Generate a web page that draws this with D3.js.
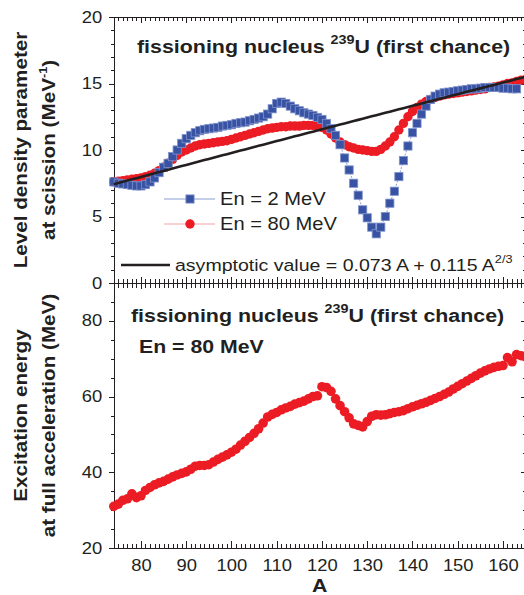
<!DOCTYPE html>
<html>
<head>
<meta charset="utf-8">
<title>Level density and excitation energy at scission, 239U</title>
<script src="https://cdn.jsdelivr.net/npm/d3@7/dist/d3.min.js"></script>
<style>
    body { margin: 0; background: #ffffff; }
    #chart svg { display: block; font-family: "Liberation Sans", Arial, Helvetica, sans-serif; }
    .axis path, .axis line { stroke: #231f20; stroke-width: 1; shape-rendering: crispEdges; }
    .axis text { fill: #231f20; font-size: 16px; }
</style>
</head>
<body>
<div id="chart"></div>
<script>

// every series has one point per mass number, starting at A = 74
const firstA = 74;

// level density parameter at scission (MeV^-1), En = 2 MeV, A = 74..163
const levelDensity2MeV = [
    7.6, 7.5, 7.45, 7.4, 7.35, 7.3, 7.3, 7.4, 7.6, 7.9,
    8.3, 8.7, 9.0, 9.5, 10.0, 10.5, 10.85, 11.1, 11.3, 11.45,
    11.55, 11.6, 11.65, 11.7, 11.8, 11.85, 11.9, 12.0, 12.05, 12.1,
    12.2, 12.3, 12.4, 12.5, 12.7, 13.1, 13.5, 13.6, 13.5, 13.3,
    13.1, 12.95, 12.8, 12.7, 12.6, 12.45, 12.3, 12.0, 11.6, 11.1,
    10.4, 9.4, 8.5, 7.5, 6.6, 5.5, 4.9, 4.2, 3.7, 4.2,
    5.0, 6.0, 6.9, 8.0, 9.2, 10.3, 11.3, 12.0, 12.7, 13.3,
    13.8, 14.05, 14.2, 14.3, 14.35, 14.4, 14.45, 14.5, 14.55, 14.6,
    14.6, 14.65, 14.7, 14.7, 14.7, 14.7, 14.65, 14.65, 14.6, 14.6
];

// level density parameter at scission (MeV^-1), En = 80 MeV, A = 74..165
const levelDensity80MeV = [
    7.6, 7.65, 7.7, 7.75, 7.8, 7.85, 7.9, 8.0, 8.1, 8.25,
    8.45, 8.7, 9.0, 9.3, 9.6, 9.85, 10.0, 10.15, 10.3, 10.4,
    10.45, 10.5, 10.55, 10.6, 10.65, 10.7, 10.8, 10.9, 11.0, 11.1,
    11.2, 11.3, 11.4, 11.5, 11.6, 11.65, 11.7, 11.75, 11.75, 11.8,
    11.8, 11.8, 11.85, 11.85, 11.85, 11.8, 11.7, 11.5, 11.2, 10.9,
    10.6, 10.4, 10.25, 10.15, 10.05, 10.0, 9.95, 9.9, 9.9, 10.05,
    10.3, 10.6, 11.0, 11.5, 12.0, 12.5, 12.9, 13.2, 13.45, 13.65,
    13.8, 13.95, 14.05, 14.15, 14.2, 14.25, 14.3, 14.35, 14.4, 14.45,
    14.5, 14.55, 14.6, 14.7, 14.75, 14.8, 14.9, 15.0, 15.05, 15.15,
    15.25, 15.3
];

// excitation energy at full acceleration (MeV), En = 80 MeV, A = 74..165
const excitation80MeV = [
    31.0, 31.6, 32.6, 33.0, 34.3, 33.3, 33.8, 35.2, 36.0, 36.7,
    37.2, 37.6, 38.2, 38.8, 39.3, 39.7, 40.1, 40.8, 41.6, 41.8,
    41.8, 42.0, 42.7, 43.4, 44.0, 44.6, 45.3, 46.1, 47.2, 48.2,
    49.2, 50.3, 51.5, 53.0, 54.6, 55.3, 55.8, 56.5, 57.0, 57.4,
    58.0, 58.4, 58.8, 59.4, 60.0, 60.2, 62.6, 62.4, 61.4, 59.4,
    57.6, 56.0, 54.4, 52.8, 52.4, 52.0, 53.4, 54.8, 55.2, 55.1,
    55.2, 55.5, 55.8, 56.0, 56.3, 56.8, 57.3, 57.7, 58.1, 58.5,
    59.0, 59.5, 60.0, 60.6, 61.2, 62.0, 62.7, 63.4, 64.1, 64.8,
    65.5, 66.2, 66.8, 67.3, 67.7, 68.0, 68.2, 70.3, 69.2, 71.1,
    70.8, 70.5
];

// asymptotic level density a = 0.073 A + 0.115 A^(2/3)
const asymVolume = 0.073;
const asymSurface = 0.115;

// axis ticks
const xMajorTicks = [80, 90, 100, 110, 120, 130, 140, 150, 160];
const levelMajorTicks = [0, 5, 10, 15, 20];
const energyMajorTicks = [20, 40, 60, 80];

const ink = "#231f20";
const blue = "#3953a4";
const blueLine = "#8b9dd3";
const red = "#ec1c24";
const redLine = "#f4a3a5";
const textStretch = 1.15;

const width = 524, height = 595;
const plotLeft = 113.8, plotRight = 525.6;
const levelTop = 17, panelSplit = 283, energyBottom = 548;

let svg = d3.select("#chart").append("svg")
    .attr("width", width)
    .attr("height", height);

let x = d3.scaleLinear().domain([74, 165]).range([plotLeft, plotRight]);
let yLevel = d3.scaleLinear().domain([0, 20]).range([panelSplit, levelTop]);
let yEnergy = d3.scaleLinear().domain([20, 90]).range([energyBottom, panelSplit]);

// minor ticks: every unit of A, every 1 MeV^-1, every 5 MeV
let xMinorTicks = d3.range(74, 166).filter(d => d % 10 !== 0);
let levelMinorTicks = d3.range(1, 20).filter(d => d % 5 !== 0);
let energyMinorTicks = d3.range(25, 91, 5).filter(d => d % 20 !== 0);

function drawAxis(axis, tx, ty) {
    let g = svg.append("g")
        .attr("class", "axis")
        .attr("transform", `translate(${tx},${ty})`)
        .call(axis);
    g.selectAll("text").attr("transform", `scale(${textStretch},1)`);
    return g;
}

// ---- left axes, ticks outward
drawAxis(d3.axisLeft(yLevel).tickValues(levelMajorTicks).tickSizeInner(5).tickSizeOuter(0).tickPadding(5), plotLeft, 0);
drawAxis(d3.axisLeft(yLevel).tickValues(levelMinorTicks).tickSizeInner(3).tickSizeOuter(0).tickFormat(""), plotLeft, 0);
drawAxis(d3.axisLeft(yEnergy).tickValues(energyMajorTicks).tickSizeInner(5).tickSizeOuter(0).tickPadding(5), plotLeft, 0);
drawAxis(d3.axisLeft(yEnergy).tickValues(energyMinorTicks).tickSizeInner(3).tickSizeOuter(0).tickFormat(""), plotLeft, 0);

// ---- right axes, ticks inward
drawAxis(d3.axisRight(yLevel).tickValues(levelMajorTicks).tickSizeInner(-5).tickSizeOuter(0).tickFormat(""), plotRight, 0);
drawAxis(d3.axisRight(yLevel).tickValues(levelMinorTicks).tickSizeInner(-3).tickSizeOuter(0).tickFormat(""), plotRight, 0);
drawAxis(d3.axisRight(yEnergy).tickValues(energyMajorTicks).tickSizeInner(-5).tickSizeOuter(0).tickFormat(""), plotRight, 0);
drawAxis(d3.axisRight(yEnergy).tickValues(energyMinorTicks).tickSizeInner(-3).tickSizeOuter(0).tickFormat(""), plotRight, 0);

// ---- top frame
drawAxis(d3.axisTop(x).tickValues(xMajorTicks).tickSizeInner(-6).tickSizeOuter(0).tickFormat(""), 0, levelTop);
drawAxis(d3.axisTop(x).tickValues(xMinorTicks).tickSizeInner(-3.5).tickSizeOuter(0).tickFormat(""), 0, levelTop);

// ---- shared line between the panels, ticks into both
drawAxis(d3.axisBottom(x).tickValues(xMajorTicks).tickSizeInner(-6).tickSizeOuter(0).tickFormat(""), 0, panelSplit);
drawAxis(d3.axisBottom(x).tickValues(xMinorTicks).tickSizeInner(-4.5).tickSizeOuter(0).tickFormat(""), 0, panelSplit);
drawAxis(d3.axisTop(x).tickValues(xMajorTicks).tickSizeInner(-6).tickSizeOuter(0).tickFormat(""), 0, panelSplit);
drawAxis(d3.axisTop(x).tickValues(xMinorTicks).tickSizeInner(-4.5).tickSizeOuter(0).tickFormat(""), 0, panelSplit);

// ---- bottom axis with labels
drawAxis(d3.axisBottom(x).tickValues(xMajorTicks).tickSizeInner(-7).tickSizeOuter(0).tickPadding(12), 0, energyBottom);
drawAxis(d3.axisBottom(x).tickValues(xMinorTicks).tickSizeInner(-4).tickSizeOuter(0).tickFormat(""), 0, energyBottom);

// ---- data
let toPoints = values => values.map((v, i) => ({A: firstA + i, v: v}));
let pts2MeV = toPoints(levelDensity2MeV);
let pts80MeV = toPoints(levelDensity80MeV);
let ptsEnergy = toPoints(excitation80MeV);
let ptsAsym = d3.range(74, 166).map(A => ({A: A, v: asymVolume * A + asymSurface * Math.pow(A, 2 / 3)}));

let lineLevel = d3.line().x(d => x(d.A)).y(d => yLevel(d.v));

const sq = 8.2, rTop = 4.7, rBottom = 4.8;

// En = 80 MeV
svg.append("path")
    .datum(pts80MeV)
    .attr("d", lineLevel)
    .attr("fill", "none")
    .attr("stroke", redLine)
    .attr("stroke-width", 1);

svg.append("g")
    .selectAll("circle")
    .data(pts80MeV)
    .enter().append("circle")
    .attr("cx", d => x(d.A))
    .attr("cy", d => yLevel(d.v))
    .attr("r", rTop)
    .attr("fill", red);

// En = 2 MeV
svg.append("path")
    .datum(pts2MeV)
    .attr("d", lineLevel)
    .attr("fill", "none")
    .attr("stroke", blueLine)
    .attr("stroke-width", 1)
    .attr("stroke-dasharray", "2,1.5");

svg.append("g")
    .selectAll("rect")
    .data(pts2MeV)
    .enter().append("rect")
    .attr("x", d => x(d.A) - sq / 2)
    .attr("y", d => yLevel(d.v) - sq / 2)
    .attr("width", sq)
    .attr("height", sq)
    .attr("fill", blue)
    .attr("stroke", "#7f92cb")
    .attr("stroke-width", 0.8);

// asymptotic value
svg.append("path")
    .datum(ptsAsym)
    .attr("d", lineLevel)
    .attr("fill", "none")
    .attr("stroke", ink)
    .attr("stroke-width", 2.6);

// excitation energy, En = 80 MeV
svg.append("g")
    .selectAll("circle")
    .data(ptsEnergy)
    .enter().append("circle")
    .attr("cx", d => x(d.A))
    .attr("cy", d => yEnergy(d.v))
    .attr("r", rBottom)
    .attr("fill", red);

// ---- text
function stretchedText(px, py, size, weight, rotate) {
    let g = svg.append("g")
        .attr("transform", `translate(${px},${py})` + (rotate ? ` rotate(${rotate})` : "") + ` scale(${textStretch},1)`);
    return g.append("text")
        .attr("font-size", size)
        .attr("font-weight", weight)
        .attr("fill", ink);
}

function addSup(text, sup, size, rise) {
    text.append("tspan").attr("font-size", size).attr("dy", -rise).text(sup);
}

// panel titles
[[137, 53], [131, 322]].forEach(p => {
    let t = stretchedText(p[0], p[1], 18.6, "bold");
    t.append("tspan").text("fissioning nucleus ");
    addSup(t, "239", 12.5, 9);
    t.append("tspan").attr("dy", 9).text("U (first chance)");
});

stretchedText(139, 353, 18.5, "bold").text("En = 80 MeV");

// legend
svg.append("line")
    .attr("x1", 164).attr("x2", 215).attr("y1", 199).attr("y2", 199)
    .attr("stroke", blueLine).attr("stroke-width", 1.2);
svg.append("rect")
    .attr("x", 190 - sq / 2).attr("y", 199 - sq / 2)
    .attr("width", sq).attr("height", sq)
    .attr("fill", blue).attr("stroke", "#7f92cb").attr("stroke-width", 0.8);
stretchedText(220, 205, 17.5, "normal").text("En = 2 MeV");

svg.append("line")
    .attr("x1", 164).attr("x2", 215).attr("y1", 224).attr("y2", 224)
    .attr("stroke", redLine).attr("stroke-width", 1.2);
svg.append("circle")
    .attr("cx", 190).attr("cy", 224).attr("r", rTop)
    .attr("fill", red);
stretchedText(220, 230, 17.5, "normal").text("En = 80 MeV");

svg.append("line")
    .attr("x1", 121).attr("x2", 170).attr("y1", 265).attr("y2", 265)
    .attr("stroke", ink).attr("stroke-width", 2.6);
let asymText = stretchedText(175, 271, 17, "normal");
asymText.append("tspan").text(`asymptotic value = ${asymVolume} A + ${asymSurface} A`);
addSup(asymText, "2/3", 11, 8);

// axis titles
let yTitle1 = stretchedText(27, (levelTop + panelSplit) / 2, 18, "bold", -90).attr("text-anchor", "middle");
yTitle1.text("Level density parameter");
let yTitle2 = stretchedText(55, (levelTop + panelSplit) / 2, 18, "bold", -90).attr("text-anchor", "middle");
yTitle2.append("tspan").text("at scission (MeV");
addSup(yTitle2, "-1", 11, 8);
yTitle2.append("tspan").attr("dy", 8).text(")");

let yTitle3 = stretchedText(27, (panelSplit + energyBottom) / 2, 18, "bold", -90).attr("text-anchor", "middle");
yTitle3.text("Excitation energy");
let yTitle4 = stretchedText(55, (panelSplit + energyBottom) / 2, 18, "bold", -90).attr("text-anchor", "middle");
yTitle4.text("at full acceleration (MeV)");

stretchedText((plotLeft + plotRight) / 2, 592, 18.5, "bold").attr("text-anchor", "middle").text("A");

</script>
</body>
</html>
